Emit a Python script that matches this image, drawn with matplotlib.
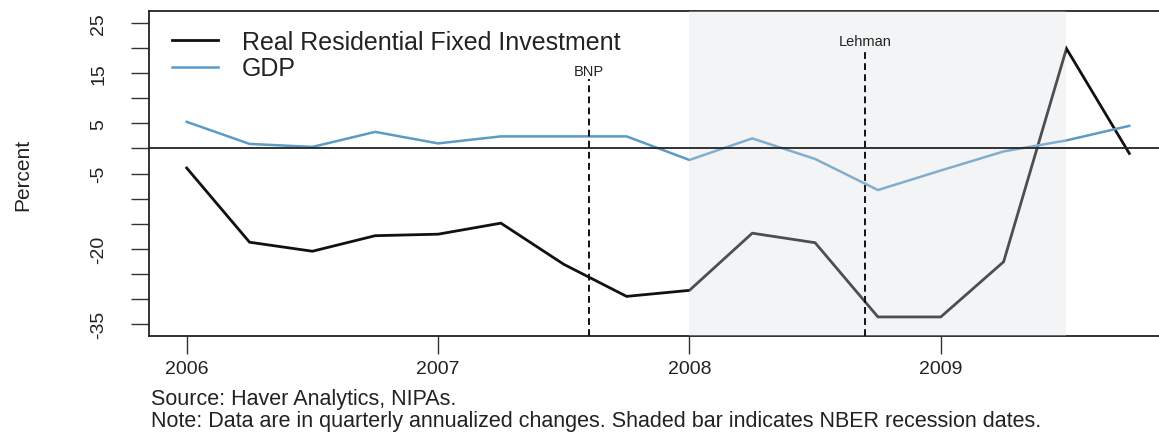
import matplotlib
matplotlib.use("Agg")
import matplotlib.pyplot as plt
from matplotlib.lines import Line2D

# ---- data ----
quarters = [2006.0, 2006.25, 2006.5, 2006.75,
            2007.0, 2007.25, 2007.5, 2007.75,
            2008.0, 2008.25, 2008.5, 2008.75,
            2009.0, 2009.25, 2009.5, 2009.75]
res_inv = [-3.9, -18.7, -20.5, -17.4,
           -17.1, -14.9, -23.1, -29.5,
           -28.3, -16.9, -18.8, -33.6,
           -33.6, -22.6, 19.9, -1.0]
gdp = [5.3, 0.9, 0.3, 3.3,
       1.0, 2.4, 2.4, 2.4,
       -2.3, 2.0, -2.1, -8.3,
       -4.4, -0.6, 1.6, 4.5]
series_labels = ["Real Residential Fixed Investment", "GDP"]
event_names = ["BNP", "Lehman"]
event_dates = [2007.6, 2008.7]
event_label_y = [15.4, 21.4]
recession = [2008.0, 2009.5]
x_ticks = [2006, 2007, 2008, 2009]
x_ticklabels = ["2006", "2007", "2008", "2009"]
y_ticks = [25, 20, 15, 10, 5, 0, -5, -10, -15, -20, -25, -30, -35]
y_ticklabels = ["25", "", "15", "", "5", "", "-5", "", "", "-20", "", "", "-35"]
source_text = "Source: Haver Analytics, NIPAs."
note_text = "Note: Data are in quarterly annualized changes. Shaded bar indicates NBER recession dates."

plt.rcParams['font.family'] = ['Liberation Sans', 'DejaVu Sans']

W, H = 1159, 439
fig = plt.figure(figsize=(W / 100, H / 100), dpi=100)
left, right, top, bottom = 149, 1167, 12, 337
ax = fig.add_axes([left / W, 1 - bottom / H, (right - left) / W, (bottom - top) / H])

black = "#111111"
blue = "#5b9bc6"

ax.plot(quarters, res_inv, color=black, lw=2.0, solid_joinstyle='miter', zorder=2)
ax.plot(quarters, gdp, color=blue, lw=1.8, zorder=2)

# recession shading drawn over the lines (semi-transparent)
ax.axvspan(recession[0], recession[1], color=(218 / 255, 221 / 255, 228 / 255), alpha=0.30, lw=0, zorder=3)

ax.axhline(0, color="#222222", lw=1.3, zorder=4)

for name, d, ly in zip(event_names, event_dates, event_label_y):
    ax.plot([d, d], [-37.4, ly - 1.6], color=black, lw=1.4, dashes=(3.5, 2.2), zorder=4)
    ax.text(d, ly, name, ha='center', va='center', fontsize=10.5, color="#222222", zorder=5)

ax.set_xlim(2005.85, 2009.9)
ax.set_ylim(-37.4, 27.4)
ax.set_xticks(x_ticks)
ax.set_xticklabels(x_ticklabels, fontsize=14, color="#222222")
ax.set_yticks(y_ticks)
ax.set_yticklabels(y_ticklabels, fontsize=14, color="#222222", rotation=90, va='center')
ax.tick_params(axis='x', length=13, width=1.0, color="#333333", pad=4)
ax.tick_params(axis='y', length=13, width=1.0, color="#333333", pad=17)
for s in ax.spines.values():
    s.set_color("#222222")
    s.set_linewidth(1.3)

ax.set_ylabel("Percent", fontsize=15, color="#222222", labelpad=42)

handles = [Line2D([], [], color=black, lw=2.0), Line2D([], [], color=blue, lw=1.8)]
leg = ax.legend(handles, series_labels, loc='upper left',
                bbox_to_anchor=((172 - left) / (right - left), 1 - (31 - top) / (bottom - top)),
                frameon=False, fontsize=18, handlelength=1.85, handletextpad=0.95,
                labelspacing=0.1, borderpad=0, borderaxespad=0)
for t in leg.get_texts():
    t.set_color("#222222")

fig.text(151 / W, 1 - 400 / H, source_text, fontsize=15.5, color="#222222", ha='left', va='center')
fig.text(151 / W, 1 - 422 / H, note_text, fontsize=15.5, color="#222222", ha='left', va='center')

fig.savefig("out.png", dpi=100, facecolor='white')
